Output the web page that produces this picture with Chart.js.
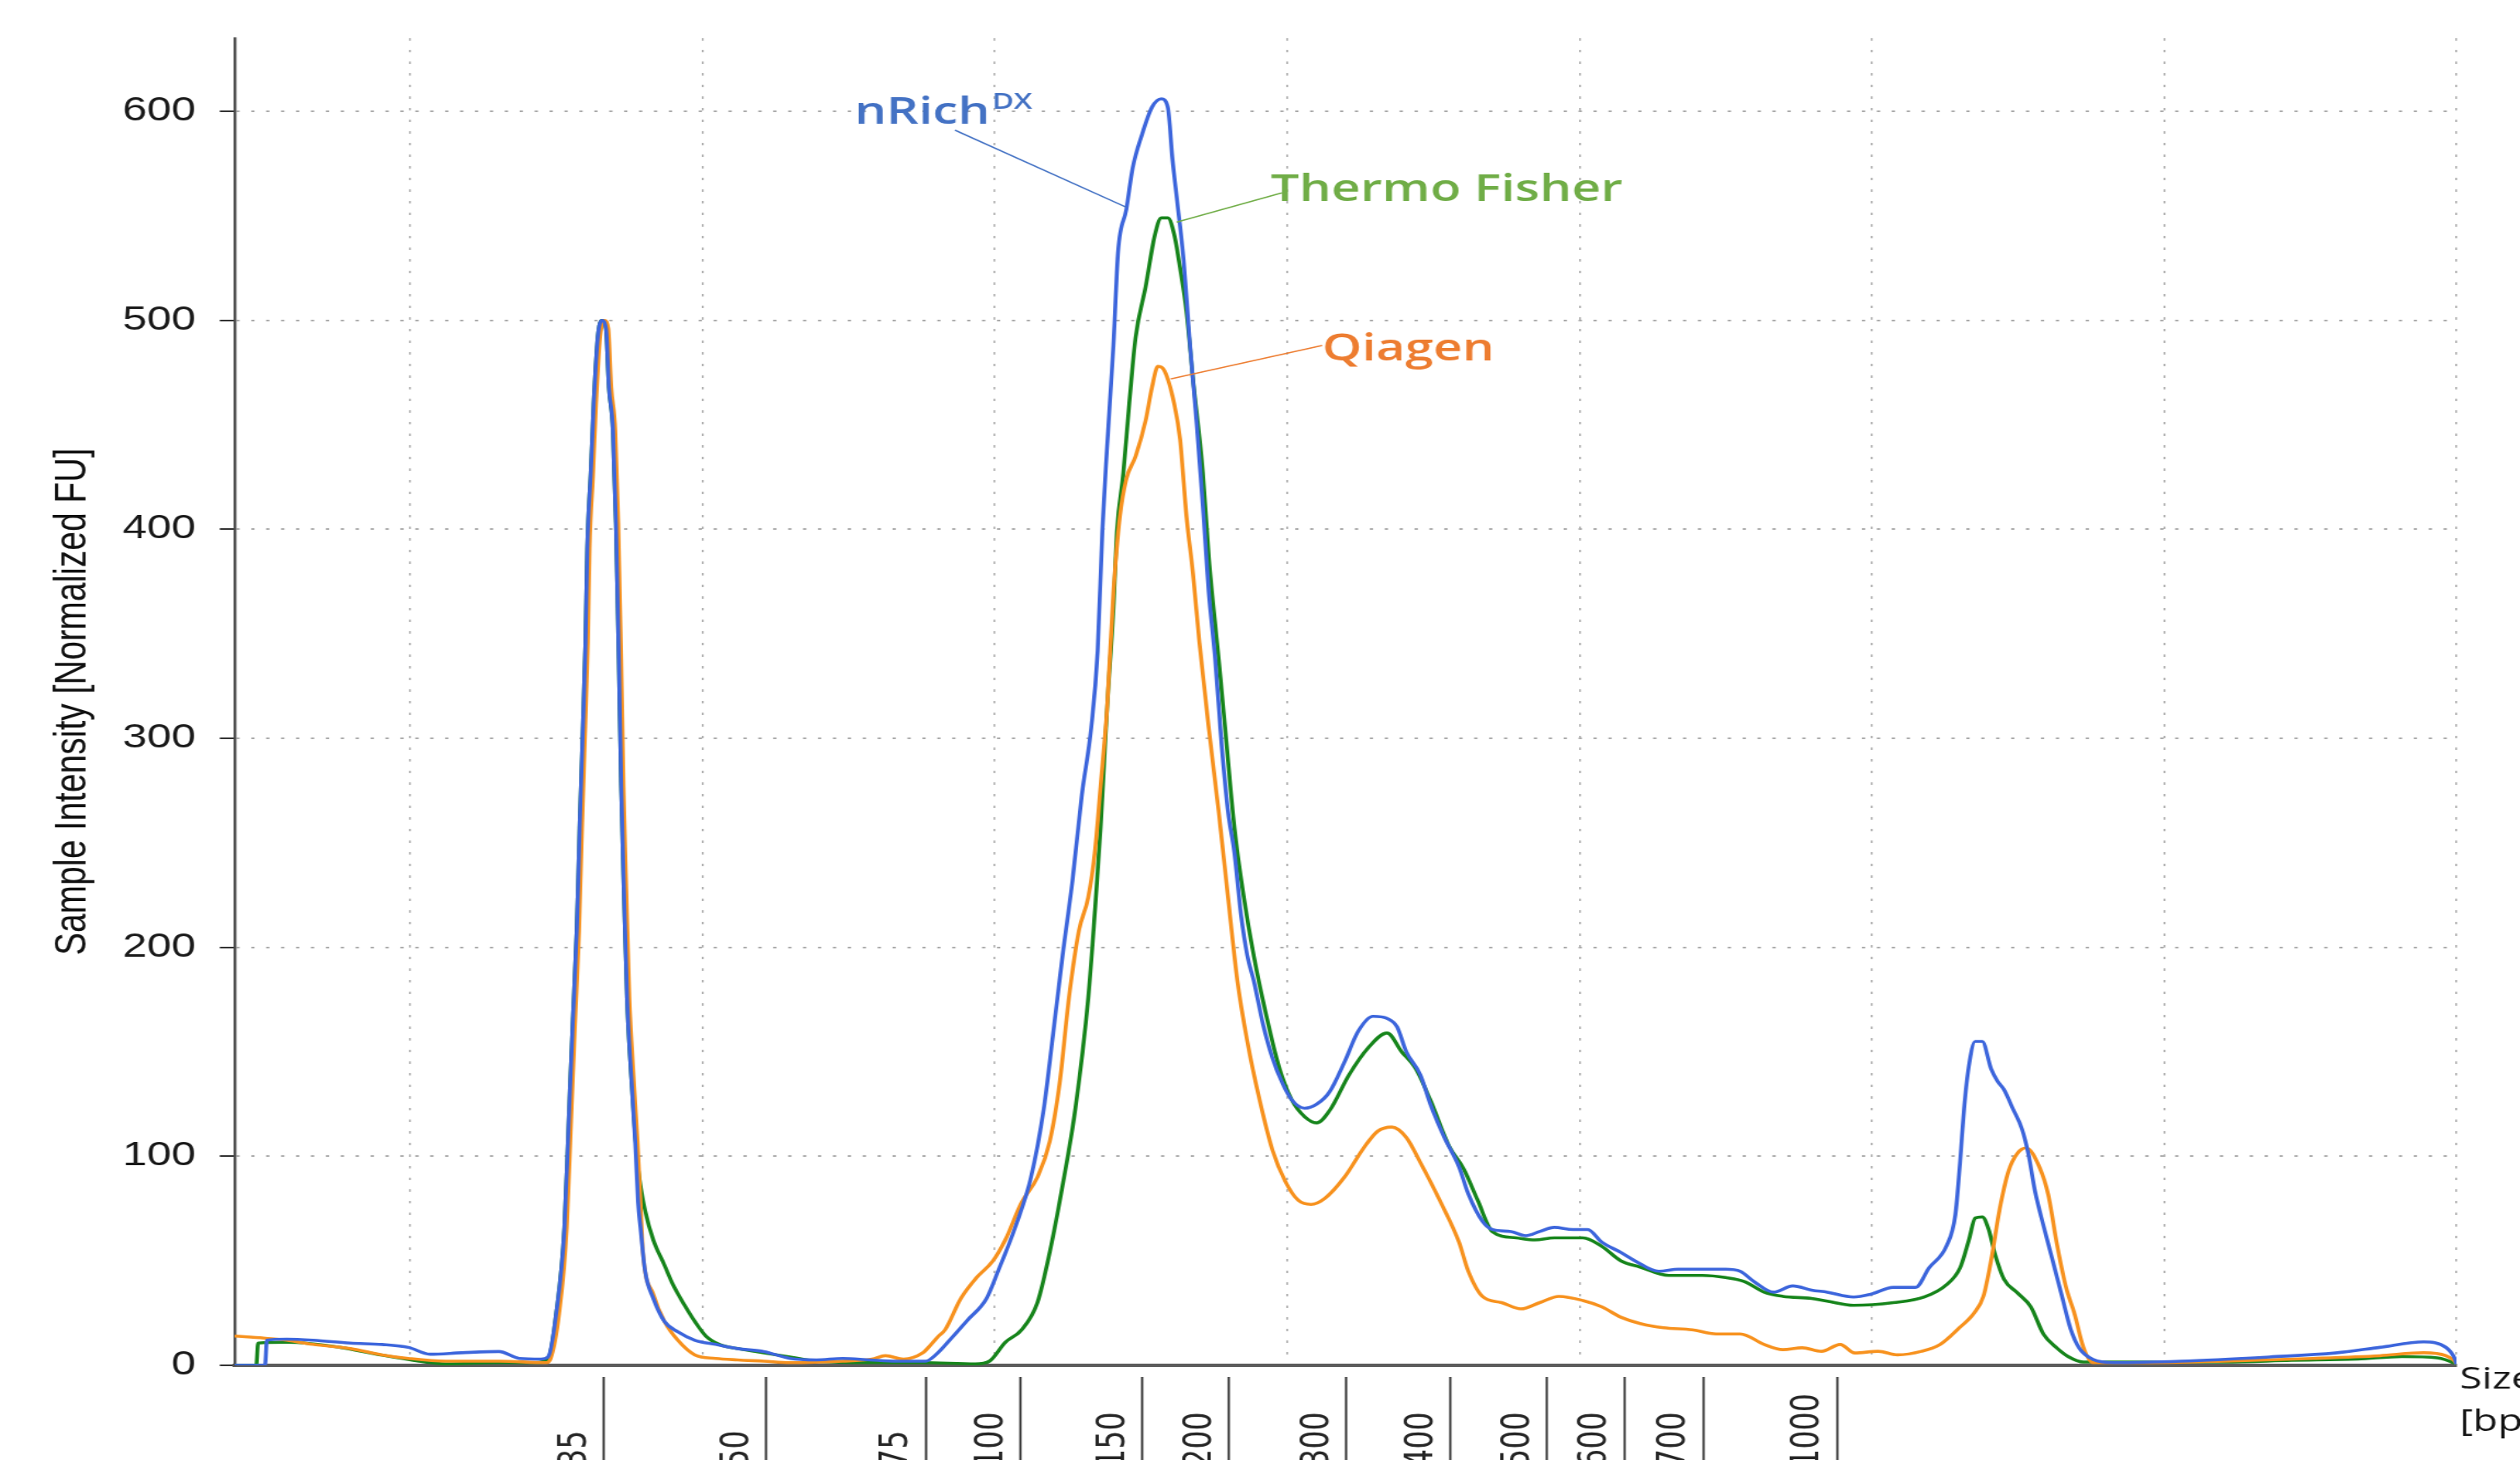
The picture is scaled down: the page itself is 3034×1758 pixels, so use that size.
<!DOCTYPE html>
<html>
<head>
<meta charset="utf-8">
<script src="https://cdn.jsdelivr.net/npm/chart.js@4.4.1/dist/chart.umd.min.js"></script>
<style>
  html, body { margin: 0; padding: 0; background: #ffffff; overflow: hidden; width: 3034px; height: 1758px; }
  #c { position: absolute; left: 0; top: 0; transform-origin: 0 0; }
</style>
</head>
<body>
<canvas id="c" width="2298" height="1758"></canvas>
<script>
// ---------------- DATA ----------------
// migration time axis (arbitrary units) and intensity values [Normalized FU]
const nrichT = [17.00,17.52,17.55,17.89,18.34,18.98,19.52,19.97,20.34,20.88,21.52,21.87,22.24,22.36,22.50,22.64,22.71,22.78,22.85,22.90,22.95,23.00,23.03,23.09,23.14,23.21,23.28,23.35,23.40,23.47,23.52,23.57,23.61,23.66,23.71,23.78,23.85,23.90,23.94,24.02,24.16,24.35,24.58,24.87,25.23,25.60,26.05,26.50,26.95,27.40,27.86,28.31,28.82,28.99,29.26,29.53,29.86,30.07,30.35,30.62,30.84,31.00,31.16,31.33,31.49,31.65,31.76,31.84,31.92,32.03,32.11,32.25,32.36,32.52,32.69,32.85,32.96,33.04,33.12,33.23,33.34,33.45,33.56,33.66,33.77,33.88,33.99,34.10,34.21,34.32,34.43,34.59,34.75,34.92,35.08,35.30,35.51,35.73,35.98,36.22,36.47,36.71,36.88,37.04,37.28,37.45,37.69,37.94,38.10,38.34,38.51,38.83,39.08,39.32,39.57,39.89,40.14,40.38,40.71,40.95,41.36,41.69,42.10,42.50,42.75,42.99,43.32,43.65,43.97,44.24,44.69,44.98,45.37,45.75,45.98,46.28,46.43,46.51,46.58,46.66,46.77,46.89,47.04,47.15,47.26,47.41,47.57,47.68,47.79,47.94,48.09,48.25,48.40,48.55,48.78,49.15,50.29,51.80,52.93,53.69,54.44,54.82,54.97,55.00];
const nrichV = [0,0,12,12.5,12,10.6,10,8.6,5.3,6,6.6,3.3,3,4,25,66,115,163,208,257,301,346,391,427,460,492,500,496,468,447,403,338,277,224,176,139,107,78,66,45,32,21,16,12,10,8,6.6,3.3,2.6,3.3,2.6,2,2,5,13,21.5,32,46,66,90,123,159,196,232,273,305,342,399,439,488,533,553,573,589,602,606,602,577,557,529,488,452,411,370,338,297,265,245,216,196,184,163,147,135,127,123,125,131,145,160,167,166,162,150,139,125,109,95,82,69,65,64,62,64,66,65,65,59,54,50,45,46,46,46,45,40,35,38,36,35,32.7,34,37.3,37.3,46.6,57.2,72,97,123,143,155,155,142,136,132,123,113,101,83.7,66.5,50.6,33.4,17.5,8.2,2.9,1.3,2,4,5.9,8.6,11.2,8.6,3.3,0.5];

const thermoT = [17.00,17.37,17.40,17.89,18.80,19.43,20.15,20.61,21.52,22.14,22.36,22.50,22.64,22.71,22.78,22.85,22.90,22.95,23.00,23.03,23.09,23.14,23.21,23.28,23.35,23.40,23.47,23.52,23.57,23.61,23.66,23.71,23.78,23.85,23.92,24.02,24.16,24.35,24.49,24.69,24.87,25.06,25.29,25.60,26.05,26.50,26.95,27.86,28.77,29.67,29.91,30.18,30.46,30.73,30.94,31.16,31.38,31.60,31.71,31.81,31.92,32.03,32.09,32.20,32.30,32.41,32.58,32.74,32.85,32.96,33.07,33.17,33.28,33.39,33.56,33.66,33.83,33.94,34.10,34.26,34.43,34.64,34.86,35.08,35.30,35.51,35.73,36.06,36.39,36.71,36.96,37.20,37.45,37.77,38.02,38.26,38.51,38.92,39.24,39.57,40.06,40.38,40.71,41.04,41.53,42.10,42.50,42.83,43.16,43.48,43.97,44.24,44.69,45.37,45.90,46.28,46.51,46.66,46.77,46.89,47.00,47.11,47.26,47.49,47.72,47.94,48.17,48.36,48.62,49.53,51.04,52.18,53.31,54.07,54.67,54.97,55.00];
const thermoV = [0,0,10.6,11,8.6,5.3,2,0.7,1.3,1.3,3,25,66,115,163,208,257,301,346,391,427,460,492,500,496,468,447,403,338,277,224,176,139,110,90,74,60,48,39,29,21,14,10,8,6,4,2,1.3,1.3,0.7,2,11,17,30,54,86,123,176,216,257,314,362,399,427,460,492,516,541,549,549,541,525,504,472,427,387,338,305,257,224,196,168,143,127,119,116,122,139,152,159,150,142,127,105,94,79,64,61,60,61,61,57,50,47,43,43,42,40,35,33,32,30.7,28.7,30,32.7,38.6,46.6,59.8,70.5,71,65,53,41.3,34.7,28,14.8,8.2,4.2,1.6,1.6,1.6,2.4,3,4.2,3.6,1,0.5];

const qiagenT = [17.00,17.50,17.89,18.34,18.98,19.52,19.97,20.61,21.52,22.33,22.40,22.55,22.68,22.75,22.82,22.89,22.94,22.99,23.04,23.07,23.13,23.18,23.25,23.32,23.39,23.44,23.51,23.56,23.61,23.65,23.70,23.75,23.82,23.89,23.94,23.98,24.16,24.35,24.58,24.87,25.23,25.60,26.05,26.50,27.40,27.90,28.13,28.44,28.77,28.88,29.04,29.15,29.42,29.69,29.97,30.18,30.46,30.73,30.94,31.11,31.27,31.44,31.60,31.71,31.81,31.92,32.03,32.14,32.25,32.41,32.58,32.69,32.79,32.90,33.07,33.17,33.28,33.39,33.50,33.66,33.83,33.99,34.15,34.32,34.53,34.75,34.97,35.19,35.41,35.65,35.98,36.31,36.55,36.79,37.04,37.28,37.61,37.94,38.10,38.34,38.67,39.00,39.32,39.65,40.06,40.38,40.71,41.04,41.44,41.93,42.34,42.75,43.16,43.48,43.81,44.14,44.46,44.71,45.11,45.44,45.85,46.17,46.50,46.75,46.91,47.04,47.19,47.34,47.49,47.64,47.87,48.02,48.17,48.32,48.47,48.62,48.78,49.53,51.04,52.55,53.69,54.44,54.82,54.97,55.00];
const qiagenV = [14,13,12,10,8,5,3.3,2,2,1.3,3,25,66,115,163,208,257,301,346,391,427,460,492,500,496,468,447,403,338,277,224,176,139,107,78,55,34,21,12,5,3.3,2.6,2,1.3,2,3,4.6,3,6,9,14,17,32,42,50,60,78,90,107,135,176,208,224,245,277,314,370,406,424,435,452,468,478,476,460,443,406,379,346,305,265,224,184,155,127,103,88,79,77,80,90,104,112,114,109,97,79,59,45,33,30,27,30,33,31,28,23,20,18,17,15,15,10,7.5,8.4,6.7,10,5.9,6.7,5,6.7,10,18,25,33,50,75,93,101.4,104,94.7,81.5,57.6,37.7,24.5,8.6,1.3,1.3,2,3.3,4.6,6,4.6,2,0.5];

// ladder sizes [bp] and where they sit on the migration axis
const ladderLabels = ['35','50','75','100','150','200','300','400','500','600','700','1000'];
const ladderT = [23.31,26.09,28.82,30.44,32.52,34.01,36.01,37.80,39.45,40.77,42.12,44.41];

// axis
const xMin = 17, xMax = 55, xGridStep = 5;
const yMin = 0, yMax = 635, yMinorStep = 20, yMajorStep = 100;

const seriesNames = ['nRich', 'Thermo Fisher', 'Qiagen'];

// ---------------- STYLE ----------------
const STRETCH = 3034 / 2298;
document.getElementById('c').style.transform = 'scaleX(' + STRETCH + ')';

const colBlue = '#3d66dc', colGreen = '#17851c', colOrange = '#f7921f';
const annColBlue = '#4472c4', annColGreen = '#70ad47', annColOrange = '#ed7d31';

const annotations = [
  { text: 'nRich', sup: 'DX', color: annColBlue, at: [27.60, 594], from: [29.32, 591], to: [32.26, 554] },
  { text: 'Thermo Fisher', color: annColGreen, at: [34.72, 557], from: [34.91, 561], to: [33.11, 547] },
  { text: 'Qiagen', color: annColOrange, at: [35.60, 481], from: [35.60, 488], to: [33.01, 472] }
];

function pts(t, v) { return t.map((tt, i) => ({ x: tt, y: v[i] })); }

const FIG = '\u2007';
const maxLen = Math.max(...ladderLabels.map(s => s.length));

const annotPlugin = {
  id: 'annot',
  afterDatasetsDraw(chart) {
    const { ctx } = chart;
    const xs = chart.scales.x, ys = chart.scales.y;
    ctx.save();
    annotations.forEach(a => {
      ctx.strokeStyle = a.color;
      ctx.lineWidth = 1.6;
      ctx.beginPath();
      ctx.moveTo(xs.getPixelForValue(a.from[0]), ys.getPixelForValue(a.from[1]));
      ctx.lineTo(xs.getPixelForValue(a.to[0]), ys.getPixelForValue(a.to[1]));
      ctx.stroke();
      ctx.fillStyle = a.color;
      ctx.font = '600 46px "Open Sans"';
      ctx.textBaseline = 'alphabetic';
      ctx.textAlign = 'left';
      const px = xs.getPixelForValue(a.at[0]), py = ys.getPixelForValue(a.at[1]);
      ctx.fillText(a.text, px, py);
      if (a.sup) {
        const w = ctx.measureText(a.text).width;
        ctx.font = '600 27px "Open Sans"';
        ctx.fillText(a.sup, px + w + 2, py - 18);
      }
    });
    // axis unit caption at the right end of the x axis
    const ca = chart.chartArea;
    ctx.fillStyle = '#151515';
    ctx.font = '37px "Open Sans"';
    ctx.fillText('Size', ca.right + 3, 1672);
    ctx.fillText('[bp]', ca.right + 3, 1723);
    ctx.restore();
  }
};

new Chart(document.getElementById('c'), {
  type: 'line',
  data: {
    datasets: [
      { label: seriesNames[0], data: pts(nrichT, nrichV), borderColor: colBlue, borderWidth: 3.6, pointRadius: 0, cubicInterpolationMode: 'monotone', fill: false },
      { label: seriesNames[2], data: pts(qiagenT, qiagenV), borderColor: colOrange, borderWidth: 3.6, pointRadius: 0, cubicInterpolationMode: 'monotone', fill: false },
      { label: seriesNames[1], data: pts(thermoT, thermoV), borderColor: colGreen, borderWidth: 3.6, pointRadius: 0, cubicInterpolationMode: 'monotone', fill: false }
    ]
  },
  options: {
    responsive: false,
    devicePixelRatio: 1,
    animation: false,
    parsing: true,
    layout: { padding: { left: 0, right: 58, top: 45, bottom: 0 } },
    plugins: { legend: { display: false }, tooltip: { enabled: false } },
    scales: {
      x: {
        type: 'linear', position: 'bottom', min: xMin, max: xMax, weight: 0,
        afterFit: s => { s.height = 14; },
        ticks: { display: false, stepSize: xGridStep, includeBounds: false },
        grid: { color: '#a8a8a8', lineWidth: 1.5, drawTicks: false },
        border: { display: true, color: '#5c5c5c', width: 4, dash: [3, 11] }
      },
      size: {
        type: 'linear', position: 'bottom', min: xMin, max: xMax, weight: 1,
        afterBuildTicks: s => { s.ticks = ladderT.map(v => ({ value: v })); },
        afterFit: s => { s.height = 100; },
        ticks: {
          autoSkip: false, minRotation: 90, maxRotation: 90, padding: -80, labelOffset: -26,
          font: { family: 'DejaVu Sans', size: 35 }, color: '#262626',
          callback: (v, i) => ladderLabels[i] + FIG.repeat(maxLen - ladderLabels[i].length)
        },
        grid: { drawOnChartArea: false, drawTicks: true, tickLength: 100, tickColor: '#333333', tickWidth: 2, color: '#333333' },
        border: { display: false }
      },
      y: {
        type: 'linear', position: 'left', min: yMin, max: yMax,
        afterFit: s => { s.width = 214; },
        ticks: {
          stepSize: yMinorStep, includeBounds: false, padding: 22,
          callback: v => (v % yMajorStep === 0 ? String(v) : null),
          font: { family: 'Liberation Sans', size: 40 }, color: '#1a1a1a'
        },
        grid: {
          color: c => (c.tick && c.tick.value % yMajorStep === 0) ? '#ababab' : 'rgba(0,0,0,0)',
          lineWidth: 2, tickLength: 13.6, tickColor: '#333333', tickWidth: 2,
          tickBorderDash: c => (c.tick && c.tick.value % yMajorStep === 0) ? [] : [0, 6, 7.6, 100]
        },
        border: { display: true, color: '#4a4a4a', width: 2.5, dash: [3, 10.6] },
        title: {
          display: true, text: 'Sample Intensity [Normalized FU]',
          font: { family: 'Liberation Sans', size: 41 }, color: '#111111',
          padding: { top: 42, bottom: 0 }
        }
      }
    }
  },
  plugins: [annotPlugin]
});
</script>
</body>
</html>
